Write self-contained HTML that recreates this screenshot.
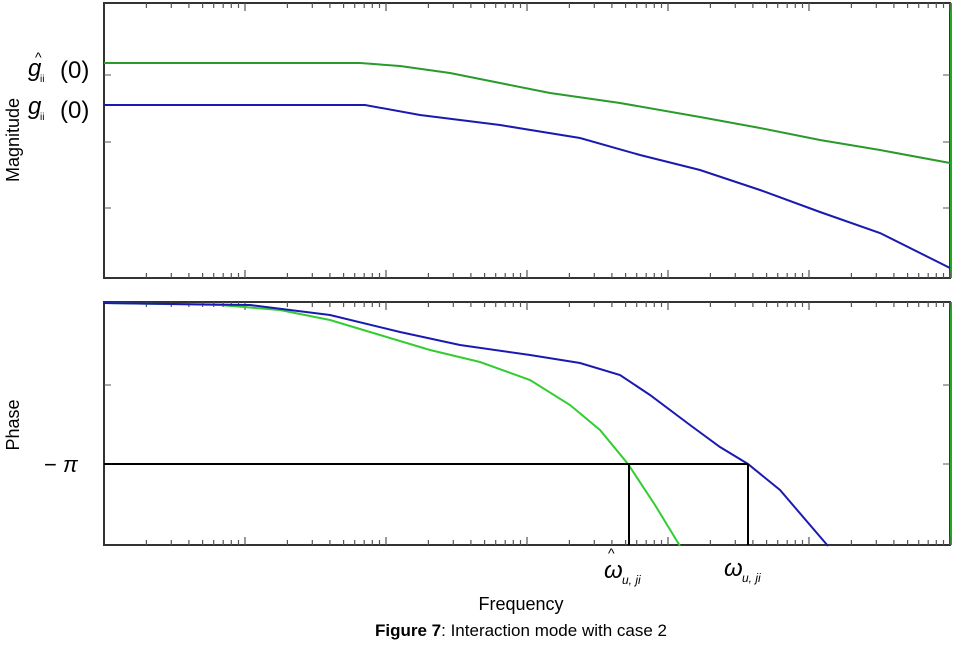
<!DOCTYPE html><html><head><style>body{margin:0;background:#fff}svg text{font-family:"Liberation Sans",sans-serif}</style></head><body>
<svg width="967" height="653" xmlns="http://www.w3.org/2000/svg">
<g fill="none" stroke="#333" stroke-width="2">
<rect x="104" y="3" width="846" height="275"/>
<rect x="104" y="302" width="846" height="243"/>
</g>
<line x1="951" y1="3" x2="951" y2="278" stroke="#2a2" stroke-width="2"/>
<line x1="951" y1="302" x2="951" y2="545" stroke="#2a2" stroke-width="2"/>
<g stroke="#555" stroke-width="1">
<path d="M104 75h7M104 142h7M104 208h7M943 75h7M943 142h7M943 208h7M104 385h7M104 464h7M943 385h7M943 464h7"/>
</g>
<g stroke="#555" stroke-width="1.2">
<path id="t" d=""/>
</g>
<script>
var d="";for(var k=0;k<6;k++){var x0=104+141*k;for(var m=2;m<=10;m++){var x=x0+141*Math.log10(m);var h=(m==10)?8:5;d+="M"+x.toFixed(1)+" 278v-"+h+"M"+x.toFixed(1)+" 3v"+h+"M"+x.toFixed(1)+" 545v-"+h+"M"+x.toFixed(1)+" 302v"+h;}}
document.getElementById("t").setAttribute("d",d);
</script>
<g fill="none" stroke-width="2">
<polyline stroke="#2a9a2a" points="104,63 360,63 400,66 450,73 500,83 550,93 620,103 700,117 760,128 820,140 880,150 950,163"/>
<polyline stroke="#1a1ab0" points="104,105 365,105 420,115 500,125 580,138 640,155 700,170 760,190 820,212 880,233 950,268"/>
<polyline stroke="#33cc33" points="104,303 220,305 280,310 330,320 380,335 430,350 480,362 530,380 570,405 600,430 628,464 655,505 680,546"/>
<polyline stroke="#1a1ab0" points="104,303 250,305 330,315 400,332 460,345 530,355 580,363 620,375 650,395 690,425 720,447 748,464 780,490 828,546"/>
</g>
<g stroke="#000" stroke-width="2" fill="none">
<path d="M104 464H748M629 464V545M748 464V545"/>
</g>
<text transform="translate(19,140) rotate(-90)" text-anchor="middle" font-size="18">Magnitude</text>
<text transform="translate(19,425) rotate(-90)" text-anchor="middle" font-size="18">Phase</text>
<text x="521" y="610" text-anchor="middle" font-size="18">Frequency</text>
<g font-family="Liberation Serif,serif" font-size="24">
<text x="28" y="76" font-style="italic">g</text><text x="35" y="62" font-size="14">^</text><text x="40" y="82" font-size="10">ii</text><text x="60" y="78">(0)</text>
<text x="28" y="114" font-style="italic">g</text><text x="40" y="120" font-size="10">ii</text><text x="60" y="118">(0)</text>
<text x="44" y="472" font-size="22">− <tspan font-style="italic">π</tspan></text>
<text x="604" y="578" font-style="italic">ω</text><text x="608" y="558" font-size="14">^</text><text x="622" y="584" font-size="12" font-style="italic">u, ji</text>
<text x="724" y="576" font-style="italic">ω</text><text x="742" y="582" font-size="12" font-style="italic">u, ji</text>
</g>
<text x="521" y="636" text-anchor="middle" font-family="Liberation Serif,serif" font-size="17"><tspan font-weight="bold">Figure 7</tspan>: Interaction mode with case 2</text>
</svg></body></html>
